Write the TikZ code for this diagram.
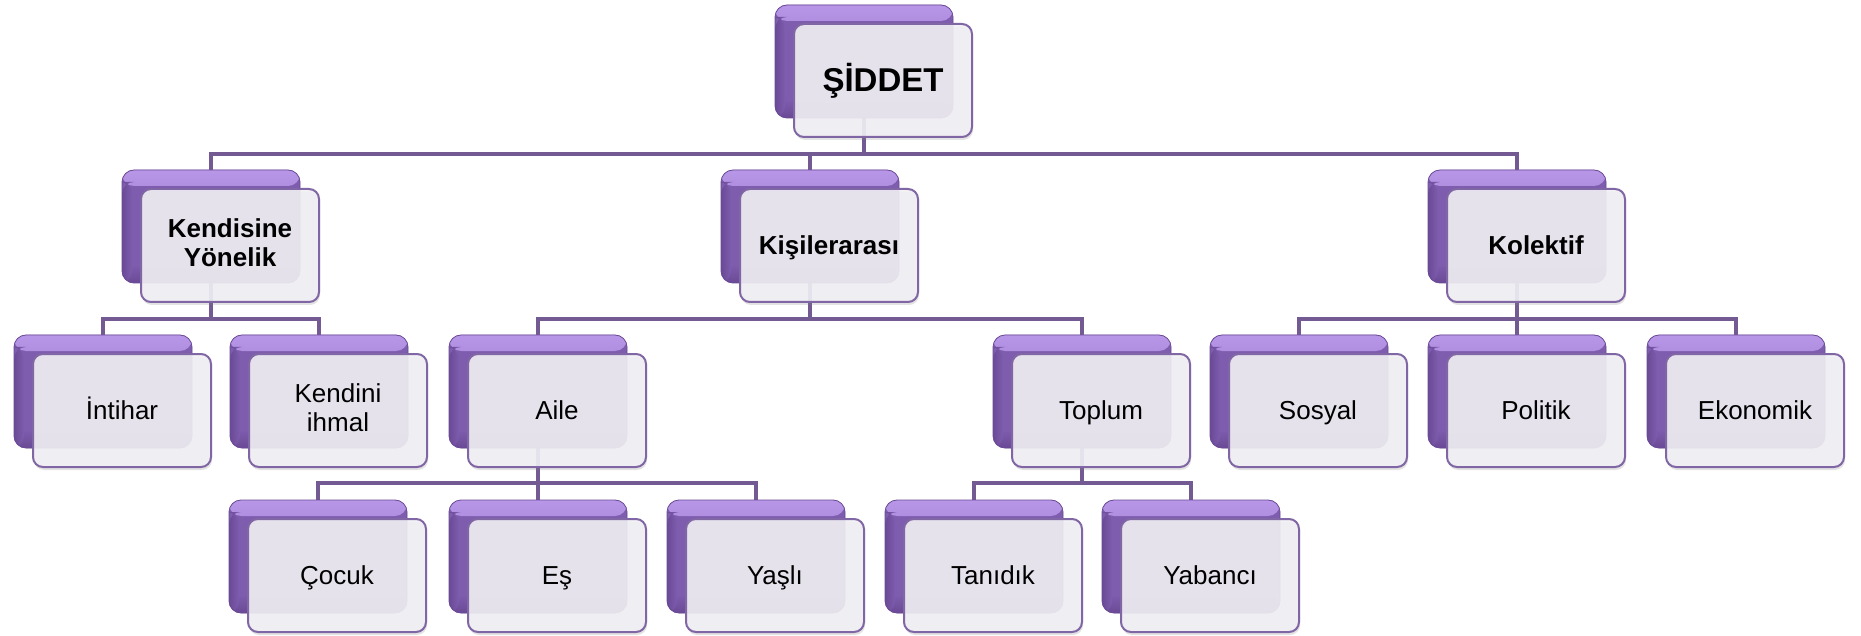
\documentclass[tikz,border=0pt]{standalone}
\usepackage{fontspec}
\setmainfont{Liberation Sans}
\usetikzlibrary{shadows,backgrounds}
\definecolor{conncol}{HTML}{735A92}
\definecolor{frontline}{HTML}{8066A4}
\definecolor{backtop}{HTML}{B897E8}
\definecolor{backmid}{HTML}{7E5CAE}
\definecolor{backbot}{HTML}{6A4A96}
\definecolor{frontfill}{HTML}{F1F0F4}
\newcommand\vstrut{\rule[-5pt]{0pt}{28pt}}
\tikzset{
  backbox/.style={rounded corners=12pt, minimum width=178pt, minimum height=113pt,
    inner sep=0pt, fill=backmid, draw=backbot, line width=0.8pt,
    path picture={
      \shade[top color=backtop, bottom color=backmid]
        (path picture bounding box.north west) rectangle
        ([yshift=-16pt]path picture bounding box.north east);
      \shade[top color=backmid, bottom color=backbot]
        ([yshift=18pt]path picture bounding box.south west) rectangle
        (path picture bounding box.south east);
      \shade[left color=backbot, right color=backmid]
        (path picture bounding box.south west) rectangle
        ([xshift=10pt,yshift=-12pt]path picture bounding box.north west);
    }},
  frontbox/.style={rounded corners=10pt, minimum width=178pt, minimum height=113pt,
    inner sep=2pt, fill=frontfill, fill opacity=0.9, text opacity=1,
    draw=frontline, line width=2pt, align=center, text=black,
    font=\fontsize{26}{29}\selectfont,
    execute at begin node=\vstrut, execute at end node=\vstrut,
    drop shadow={shadow xshift=1pt, shadow yshift=-3pt, opacity=0.22}},
  boldtext/.style={font=\fontsize{26}{29}\selectfont\bfseries},
  conn/.style={draw=conncol, line width=4pt},
}
\newcommand\boxpair[5]{%
  \node[backbox] (b#1) at (#2+89,#3+56.5) {};
  \node[frontbox,#5] (f#1) at (#2+108,#3+75.5) {#4};
}
\begin{document}
\begin{tikzpicture}[x=1pt,y=-1pt]
\useasboundingbox (0,0) rectangle (1861,636);
% level 0
\boxpair{sid}{775}{5}{ŞİDDET}{font=\fontsize{33}{38}\selectfont\bfseries}
% level 1
\boxpair{kend}{122}{170}{Kendisine\\Yönelik}{boldtext}
\boxpair{kisi}{721}{170}{Kişilerarası}{boldtext}
\boxpair{kol}{1428}{170}{Kolektif}{boldtext}
% level 2
\boxpair{int}{14}{335}{İntihar}{}
\boxpair{ihm}{230}{335}{Kendini\\ihmal}{}
\boxpair{aile}{449}{335}{Aile}{}
\boxpair{top}{993}{335}{Toplum}{}
\boxpair{sos}{1210}{335}{Sosyal}{}
\boxpair{pol}{1428}{335}{Politik}{}
\boxpair{eko}{1647}{335}{Ekonomik}{}
% level 3
\boxpair{coc}{229}{500}{Çocuk}{}
\boxpair{es}{449}{500}{Eş}{}
\boxpair{yas}{667}{500}{Yaşlı}{}
\boxpair{tan}{885}{500}{Tanıdık}{}
\boxpair{yab}{1102}{500}{Yabancı}{}
\begin{scope}[on background layer]
  \fill[white] (0,0) rectangle (1861,636);
  \coordinate (ya) at (0,154);
  \coordinate (yb) at (0,319);
  \coordinate (yc) at (0,483);
  \foreach \c in {kend,kisi,kol}
    \draw[conn] (bsid.south) -- (bsid.south |- ya) -| (b\c.north);
  \foreach \c in {int,ihm}
    \draw[conn] (bkend.south) -- (bkend.south |- yb) -| (b\c.north);
  \foreach \c in {aile,top}
    \draw[conn] (bkisi.south) -- (bkisi.south |- yb) -| (b\c.north);
  \foreach \c in {sos,pol,eko}
    \draw[conn] (bkol.south) -- (bkol.south |- yb) -| (b\c.north);
  \foreach \c in {coc,es,yas}
    \draw[conn] (baile.south) -- (baile.south |- yc) -| (b\c.north);
  \foreach \c in {tan,yab}
    \draw[conn] (btop.south) -- (btop.south |- yc) -| (b\c.north);
\end{scope}
\end{tikzpicture}
\end{document}
